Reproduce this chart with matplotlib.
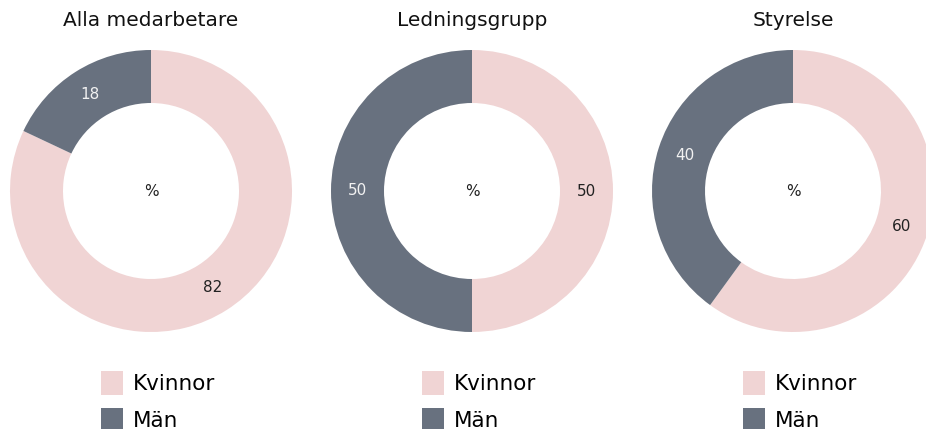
import matplotlib
matplotlib.use("Agg")
import matplotlib.pyplot as plt

# Data
titlar = ["Alla medarbetare", "Ledningsgrupp", "Styrelse"]
kategorier = ["Kvinnor", "Män"]
kvinnor = [82, 50, 60]
man = [18, 50, 40]
farger = ["#F0D4D4", "#68717F"]
textfarger = ["#222222", "#F2F2F2"]

W, H = 926, 429
fig = plt.figure(figsize=(W / 100, H / 100), dpi=100)
plt.rcParams['font.family'] = ['DejaVu Sans']

R = 141          # ytterradie i pixlar
cy = 191         # centrum y (uppifrån)
centra = [151, 472, 793]

for i, titel in enumerate(titlar):
    cx = centra[i]
    ax = fig.add_axes([(cx - R) / W, (H - cy - R) / H, 2 * R / W, 2 * R / H])
    varden = [kvinnor[i], man[i]]
    wedges, _, autotexter = ax.pie(
        varden, colors=farger, startangle=90, counterclock=False,
        radius=1, wedgeprops=dict(width=53 / R, linewidth=0),
        autopct=lambda p: f"{p:.0f}", pctdistance=0.81,
        textprops=dict(fontsize=11))
    for t, c in zip(autotexter, textfarger):
        t.set_color(c)
    ax.text(0, 0, "%", ha="center", va="center", fontsize=11, color="#222222")
    ax.set_xlim(-1, 1)
    ax.set_ylim(-1, 1)
    ax.set_aspect("auto")
    ax.axis("off")
    fig.text(cx / W, (H - 21) / H, titel, ha="center", va="center",
             fontsize=14.5, color="#111111")
    fig.legend(wedges, kategorier, loc="upper left",
               bbox_to_anchor=((cx - 50) / W, (H - 371) / H),
               frameon=False, fontsize=15.5, handlelength=1.03, handleheight=1.32,
               handletextpad=0.45, labelspacing=0.6, borderpad=0, borderaxespad=0)

fig.savefig("out.png", dpi=100)
